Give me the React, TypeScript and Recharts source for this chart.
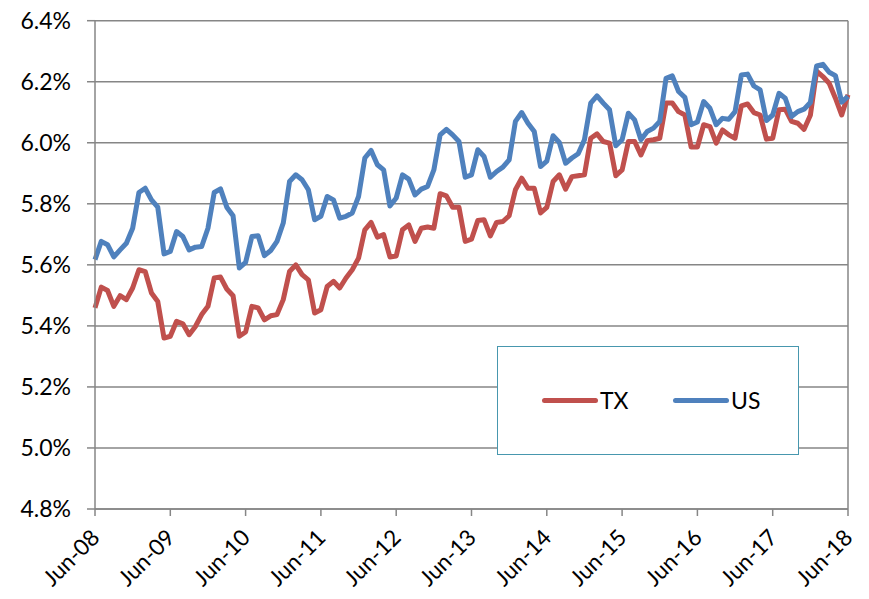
import React from "react";
import { LineChart, Line, XAxis, YAxis, CartesianGrid, ReferenceLine, Legend } from "recharts";

// monthly rates, Jun-08 .. Jun-18 (percent)
const TX = [
  5.459, 5.527, 5.516, 5.464, 5.499, 5.486, 5.524, 5.584, 5.578, 5.508, 5.48, 5.36,
  5.366, 5.415, 5.407, 5.371, 5.398, 5.437, 5.464, 5.557, 5.56, 5.521, 5.499, 5.366,
  5.38, 5.464, 5.459, 5.42, 5.433, 5.437, 5.486, 5.578, 5.6, 5.568, 5.551, 5.442,
  5.453, 5.529, 5.546, 5.524, 5.557, 5.584, 5.622, 5.715, 5.739, 5.691, 5.699, 5.626,
  5.629, 5.715, 5.731, 5.677, 5.72, 5.724, 5.72, 5.833, 5.826, 5.789, 5.789, 5.677,
  5.684, 5.745, 5.748, 5.695, 5.739, 5.742, 5.761, 5.846, 5.884, 5.851, 5.851, 5.77,
  5.788, 5.873, 5.895, 5.848, 5.889, 5.892, 5.895, 6.015, 6.029, 6.004, 5.999, 5.892,
  5.911, 6.004, 6.004, 5.96, 6.007, 6.01, 6.015, 6.13, 6.13, 6.102, 6.091, 5.986,
  5.986, 6.059, 6.053, 5.999, 6.042, 6.026, 6.015, 6.121, 6.127, 6.099, 6.091, 6.012,
  6.015, 6.108, 6.11, 6.07, 6.064, 6.044, 6.09, 6.235, 6.217, 6.195, 6.146, 6.091,
  6.157,
];

const US = [
  5.617, 5.677, 5.666, 5.626, 5.649, 5.671, 5.72, 5.837, 5.851, 5.813, 5.789, 5.636,
  5.644, 5.709, 5.693, 5.649, 5.658, 5.66, 5.72, 5.837, 5.849, 5.789, 5.761, 5.59,
  5.608, 5.693, 5.695, 5.63, 5.647, 5.677, 5.737, 5.873, 5.895, 5.879, 5.846, 5.748,
  5.759, 5.824, 5.813, 5.753, 5.759, 5.77, 5.824, 5.95, 5.975, 5.928, 5.911, 5.793,
  5.819, 5.895, 5.881, 5.829, 5.848, 5.857, 5.911, 6.026, 6.044, 6.026, 6.004, 5.887,
  5.895, 5.977, 5.955, 5.887, 5.906, 5.92, 5.944, 6.07, 6.099, 6.064, 6.037, 5.922,
  5.94, 6.023, 6.001, 5.933, 5.95, 5.964, 6.01, 6.13, 6.154, 6.13, 6.108, 5.99,
  6.01, 6.097, 6.075, 6.01, 6.037, 6.048, 6.07, 6.211, 6.219, 6.168, 6.149, 6.059,
  6.068, 6.135, 6.113, 6.059, 6.08, 6.077, 6.102, 6.222, 6.225, 6.186, 6.173, 6.073,
  6.091, 6.162, 6.146, 6.086, 6.102, 6.11, 6.132, 6.252, 6.257, 6.231, 6.22, 6.133,
  6.152,
];

const TICK_LABELS = ["Jun-08", "Jun-09", "Jun-10", "Jun-11", "Jun-12", "Jun-13", "Jun-14", "Jun-15", "Jun-16", "Jun-17", "Jun-18"];
const X_TICKS = TICK_LABELS.map((_, k) => k * 12);
const Y_TICKS = [4.8, 5.0, 5.2, 5.4, 5.6, 5.8, 6.0, 6.2, 6.4];

const data = TX.map((tx, i) => ({ i, TX: tx, US: US[i] }));

const RED = "#C0504D";
const BLUE = "#4F81BD";
const AXIS = "#868686";
const FONT = "Lato, 'Open Sans', sans-serif";

const XTick = ({ x, y, payload }: any) => (
  <g transform={`translate(${x + 6},${y + 23}) rotate(-45)`}>
    <text x={0} y={0} textAnchor="end" fill="#000" fontSize={22.5} fontFamily={FONT}>
      {TICK_LABELS[Math.round(payload.value / 12)]}
    </text>
  </g>
);

const LegendBox = () => (
  <div style={{
    boxSizing: "border-box", width: 302, height: 109, border: "1.5px solid #4797AE",
    background: "#fff", position: "relative", fontFamily: FONT, fontSize: 23, color: "#000"
  }}>
    <div style={{ position: "absolute", left: 44, top: 51, width: 56, height: 5, borderRadius: 3, background: RED }} />
    <div style={{ position: "absolute", left: 102, top: 38, lineHeight: "30px" }}>TX</div>
    <div style={{ position: "absolute", left: 175, top: 51, width: 56, height: 5, borderRadius: 3, background: BLUE }} />
    <div style={{ position: "absolute", left: 233, top: 38, lineHeight: "30px" }}>US</div>
  </div>
);

export default function App() {
  return (
    <div style={{ margin: -8, width: 869, height: 599 }}>
      <LineChart width={869} height={599} data={data} margin={{ top: 20.7, right: 21, left: 0, bottom: 0 }}>
        <CartesianGrid vertical={false} stroke={AXIS} strokeWidth={1.5} />
        <XAxis
          type="number" dataKey="i" domain={[0, 120]} ticks={X_TICKS} interval={0}
          height={90} tickSize={7} tickMargin={0}
          axisLine={{ stroke: AXIS, strokeWidth: 1.5 }} tickLine={{ stroke: AXIS, strokeWidth: 1.5 }}
          tick={<XTick />}
        />
        <YAxis
          domain={[4.8, 6.4]} ticks={Y_TICKS} interval={0} width={95}
          tickSize={8} tickMargin={16}
          axisLine={{ stroke: AXIS, strokeWidth: 1.5 }} tickLine={{ stroke: AXIS, strokeWidth: 1.5 }}
          tick={{ fill: "#000", fontSize: 23, fontFamily: FONT }}
          tickFormatter={(v: number) => `${v.toFixed(1)}%`}
        />
        <ReferenceLine x={120} stroke={AXIS} strokeWidth={1.5} />
        <Line type="linear" dataKey="TX" stroke={RED} strokeWidth={5} dot={false} strokeLinejoin="round" isAnimationActive={false} />
        <Line type="linear" dataKey="US" stroke={BLUE} strokeWidth={5} dot={false} strokeLinejoin="round" isAnimationActive={false} />
        <Legend
          verticalAlign="middle" align="center" layout="horizontal"
          wrapperStyle={{ left: 497, top: 346, width: 302, height: 109 }}
          content={() => <LegendBox />}
        />
      </LineChart>
    </div>
  );
}
